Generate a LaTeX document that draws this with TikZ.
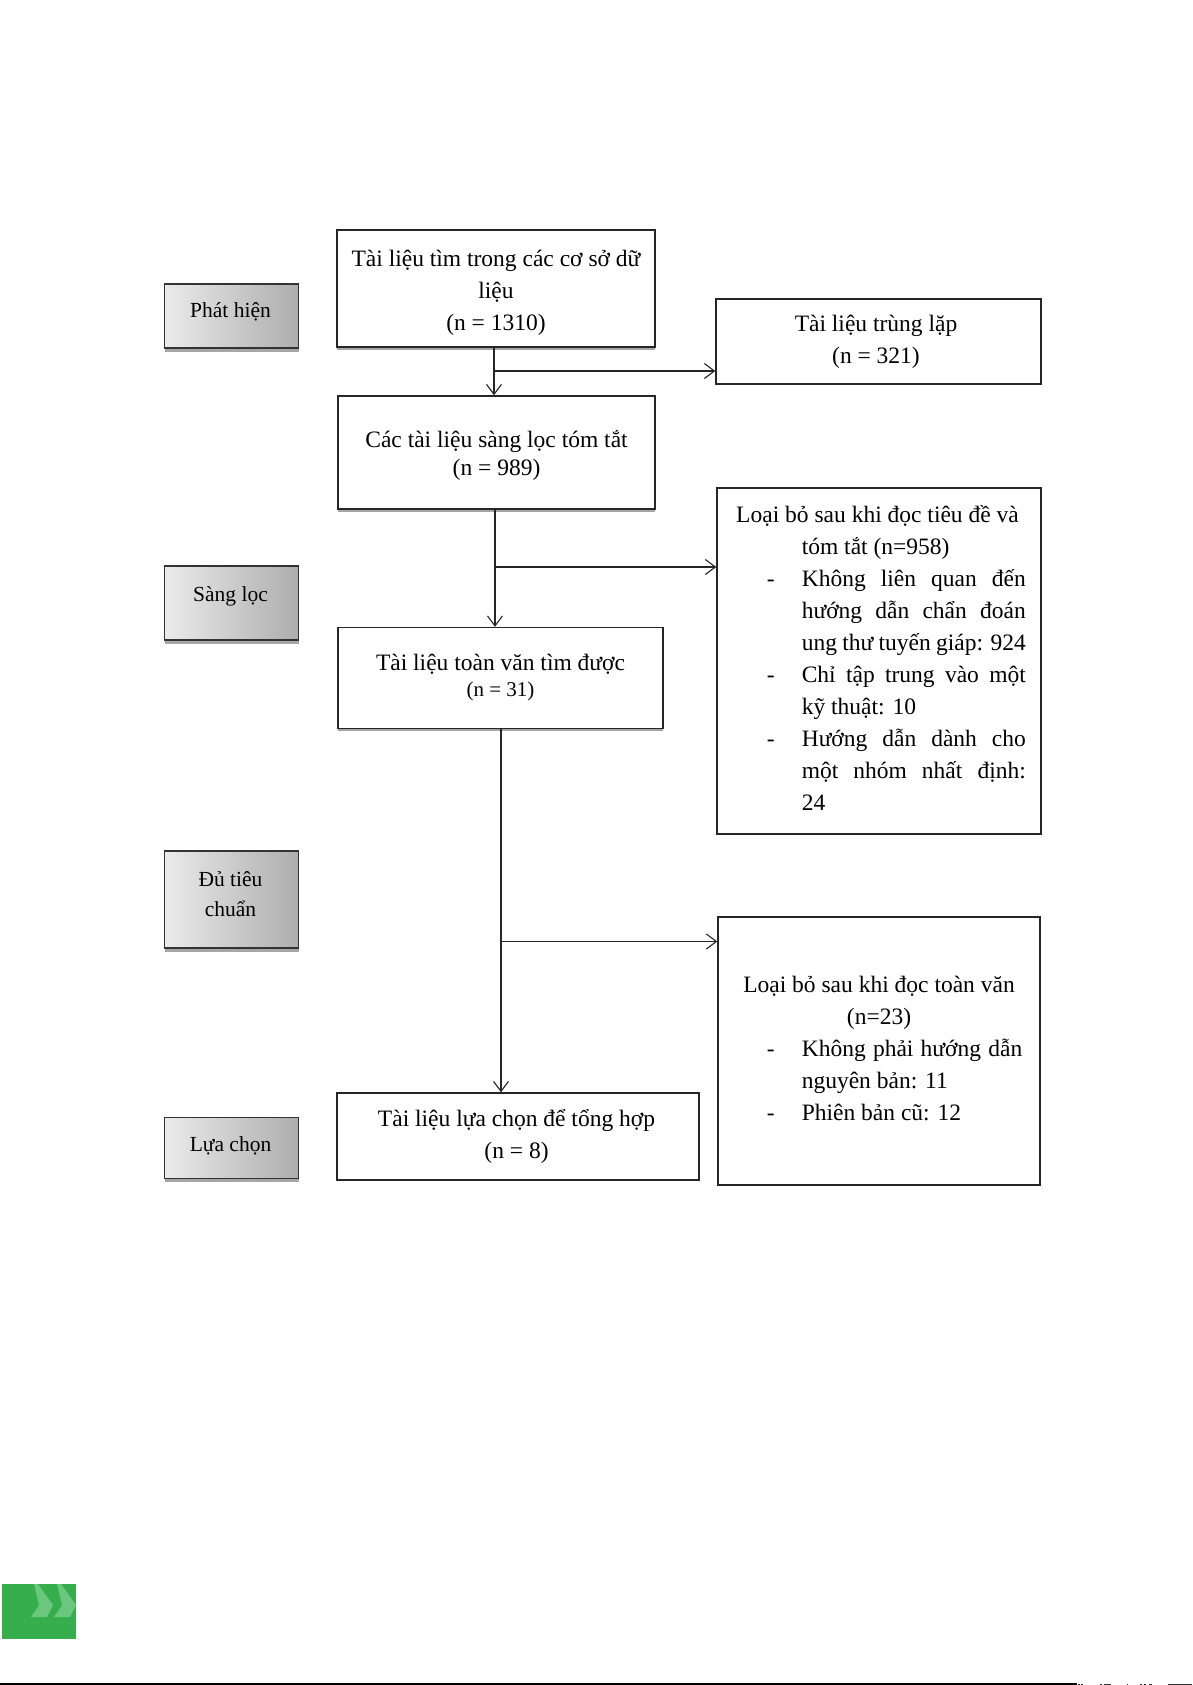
\documentclass[tikz,border=0pt]{standalone}
\usepackage{fontspec}
\setmainfont{Liberation Serif}
\usetikzlibrary{arrows.meta,shadows}
\definecolor{greenbar}{HTML}{37AE4E}
\definecolor{greenchev}{HTML}{6CC77E}
\newcommand{\jline}[1]{\makebox[224pt][s]{#1}}
\newcommand{\exitem}[1]{\makebox[0pt][r]{-\hspace*{27pt}}#1}
\newcommand{\topstrut}[1]{\rule{0pt}{#1}}
\newcommand{\botstrut}[1]{\rule[-#1]{0pt}{#1}}
\tikzset{
  x=1pt,y=1pt,
  plainbox/.style={draw=black!85,line width=1.4pt,fill=white,rectangle,inner sep=0pt,align=center,font=\fontsize{23.5}{32}\selectfont},
  mainbox/.style={plainbox,general shadow={fill=black!35,shadow yshift=-2.5pt}},
  stagebox/.style={draw=black!80,line width=1.3pt,rectangle,inner sep=0pt,align=center,left color=black!8,right color=black!32,
    general shadow={fill=black!35,shadow yshift=-3.5pt},font=\fontsize{21.5}{30}\selectfont},
  conn/.style={draw=black!85,line width=1.3pt},
  arr/.style={conn,-{Straight Barb[length=10pt,width=15pt,line width=1.1pt]}}
}
\begin{document}
\begin{tikzpicture}
\useasboundingbox (0,0) rectangle (1192,-1685);
\fill[white] (0,0) rectangle (1192,-1685);
% stage labels
\node[stagebox,minimum width=134,minimum height=64] (s1) at (231.5,-316) {\hspace*{-2pt}Phát hiện\botstrut{12pt}};
\node[stagebox,minimum width=134,minimum height=74] (s2) at (231.5,-603) {\hspace*{-2pt}Sàng lọc\botstrut{18pt}};
\node[stagebox,minimum width=134,minimum height=97] (s3) at (231.5,-899.5) {\hspace*{-2pt}Đủ tiêu\\\hspace*{-2pt}chuẩn\botstrut{10pt}};
\node[stagebox,minimum width=134,minimum height=61] (s4) at (231.5,-1148) {\hspace*{-2pt}Lựa chọn\botstrut{7pt}};
% main boxes
\node[mainbox,minimum width=318,minimum height=117] (b1) at (496,-288.5) {\topstrut{26pt}Tài liệu tìm trong các cơ sở dữ\\liệu\\(n = 1310)};
\node[mainbox,minimum width=317,minimum height=113] (b2) at (496.5,-452.5) {\topstrut{22pt}Các tài liệu sàng lọc tóm tắt\\[-4pt](n = 989)};
\node[mainbox,minimum width=325,minimum height=101] (b3) at (500.5,-678) {Tài liệu toàn văn tìm được\\[-6pt]{\fontsize{21}{28}\selectfont (n = 31)}};
\node[plainbox,minimum width=362,minimum height=87] (b4) at (518,-1136.5) {\hspace*{-3pt}Tài liệu lựa chọn để tổng hợp\\\hspace*{-3pt}(n = 8)};
% right boxes
\node[plainbox,minimum width=325,minimum height=85] (d) at (878.5,-341.5) {\hspace*{-5pt}Tài liệu trùng lặp\\\hspace*{-5pt}(n = 321)};
\node[plainbox,minimum width=324,minimum height=346] (e1) at (879,-661) {
  \hspace*{-3pt}Loại bỏ sau khi đọc tiêu đề và\\
  \hspace*{69.6pt}\makebox[224pt][l]{tóm tắt (n=958)}\\
  \hspace*{69.6pt}\exitem{\jline{Không liên quan đến}}\\
  \hspace*{69.6pt}\jline{hướng dẫn chẩn đoán}\\
  \hspace*{69.6pt}\jline{ung thư tuyến giáp: 924}\\
  \hspace*{69.6pt}\exitem{\jline{Chỉ tập trung vào một}}\\
  \hspace*{69.6pt}\makebox[224pt][l]{kỹ thuật: 10}\\
  \hspace*{69.6pt}\exitem{\jline{Hướng dẫn dành cho}}\\
  \hspace*{69.6pt}\jline{một nhóm nhất định:}\\
  \hspace*{69.6pt}\makebox[224pt][l]{24}\botstrut{6pt}};
\node[plainbox,minimum width=322,minimum height=268] (e2) at (879,-1051) {
  Loại bỏ sau khi đọc toàn văn\\
  (n=23)\\
  \hspace*{69.6pt}\exitem{\makebox[224pt][l]{\makebox[220.5pt][s]{Không phải hướng dẫn}}}\\
  \hspace*{69.6pt}\makebox[224pt][l]{nguyên bản: 11}\\
  \hspace*{69.6pt}\exitem{\makebox[224pt][l]{Phiên bản cũ: 12}}\botstrut{5pt}};
% junctions
\coordinate (j1) at (494,-371);
\coordinate (j2) at (495,-567);
\coordinate (j3) at (501,-941.5);
\draw[arr] (j1 |- b1.south) -- (j1 |- b2.north);
\draw[arr] (j1) -- (j1 -| d.west);
\draw[arr] (j2 |- b2.south) -- (j2 |- b3.north);
\draw[arr] (j2) -- (j2 -| e1.west);
\draw[arr] (j3 |- b3.south) -- (j3 |- b4.north);
\draw[arr] (j3) -- (j3 -| e2.west);
% page furniture
\fill[greenbar] (2,-1584) rectangle (76,-1639);
\fill[greenchev] (34,-1584) -- (38,-1584) -- (53,-1605) -- (47,-1617) -- (31,-1617) -- (39,-1605) -- cycle;
\fill[greenchev] (57,-1584) -- (61,-1584) -- (76,-1605) -- (70,-1617) -- (54,-1617) -- (62,-1605) -- cycle;
\fill[black] (0,-1683) rectangle (1077,-1685);
\foreach \a/\b in {1078/1080,1081/1083,1100/1102,1104/1111,1127/1128,1140/1142,1144/1146,1149/1152,1168/1192}
  \fill[black!80] (\a,-1683.5) rectangle (\b,-1685);
\end{tikzpicture}
\end{document}
